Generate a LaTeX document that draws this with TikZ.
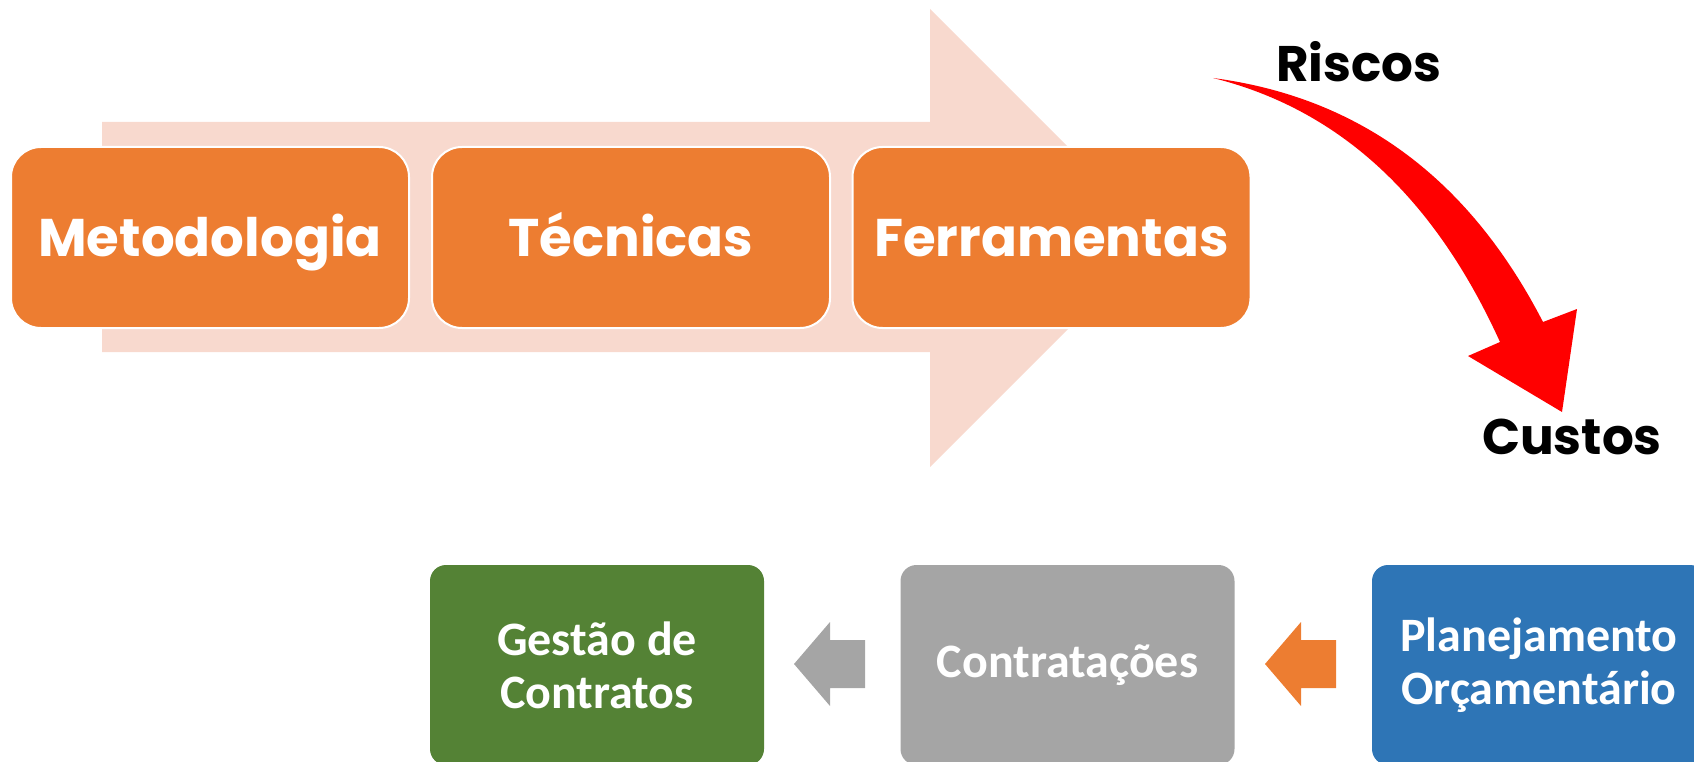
\documentclass[tikz,border=0pt]{standalone}
\usepackage{fontspec}
\usepackage{xcolor}
\usepackage{tikz}
\newfontfamily\headfont{Poppins}
\newfontfamily\bodyfont{Carlito}
\definecolor{peach}{HTML}{F8D9CE}
\definecolor{toolorange}{HTML}{ED7D31}
\definecolor{riskred}{HTML}{FF0000}
\definecolor{gestgreen}{HTML}{548235}
\definecolor{contgray}{HTML}{A5A5A5}
\definecolor{planblue}{HTML}{2E75B6}

\begin{document}
\begin{tikzpicture}[x=1pt,y=-1pt,
    tool/.style={draw=white,line width=2pt,fill=toolorange,rounded corners=30pt,minimum width=398pt,minimum height=181pt,text height=39pt,text depth=2pt,text=white,font=\headfont\bfseries\fontsize{53}{63}\selectfont},
    phase/.style={rounded corners=16pt,minimum width=334pt,minimum height=200pt,text=white,align=center,font=\bodyfont\bfseries\fontsize{48}{53}\selectfont},
    word/.style={text=black,font=\headfont\bfseries\fontsize{50}{60}\selectfont}]
    \useasboundingbox (0,0) rectangle (1694,762);
    \clip (0,0) rectangle (1694,762);
    % big arrow behind the three steps
    \fill[peach] (102,122) -- (930,122) -- (930,9) -- (1159,238) -- (930,467) -- (930,352) -- (102,352) -- cycle;
    \node[tool] (met) at (210,237.5) {Metodologia};
    \node[tool] (tec) at (631,237.5) {Técnicas};
    \node[tool] (fer) at (1051.5,237.5) {Ferramentas};
    \node[word] (riscos) at (1359,62) {Riscos};
    \node[word] (custos) at (1572,437) {Custos};
    % curved red arrow
    \fill[riskred] (1213,78) .. controls (1380,100) and (1480,200) .. (1543,322) -- (1577,309) -- (1562,412) -- (1468,356) -- (1500,342) .. controls (1440,210) and (1350,112) .. (1213,78) -- cycle;
    \node[phase,fill=gestgreen] (gest) at (597,665) {Gestão de\\Contratos};
    \node[phase,fill=contgray] (cont) at (1067.5,665) {Contratações};
    \node[phase,fill=planblue] (plan) at (1539,665) {Planejamento\\Orçamentário};
    % block arrows between phases
    \fill[contgray] (794,664) -- (830,622) -- (830,640) -- (865,640) -- (865,688) -- (830,688) -- (830,706) -- cycle;
    \fill[toolorange] (1265,664) -- (1301,622) -- (1301,640) -- (1336,640) -- (1336,688) -- (1301,688) -- (1301,706) -- cycle;
\end{tikzpicture}
\end{document}
